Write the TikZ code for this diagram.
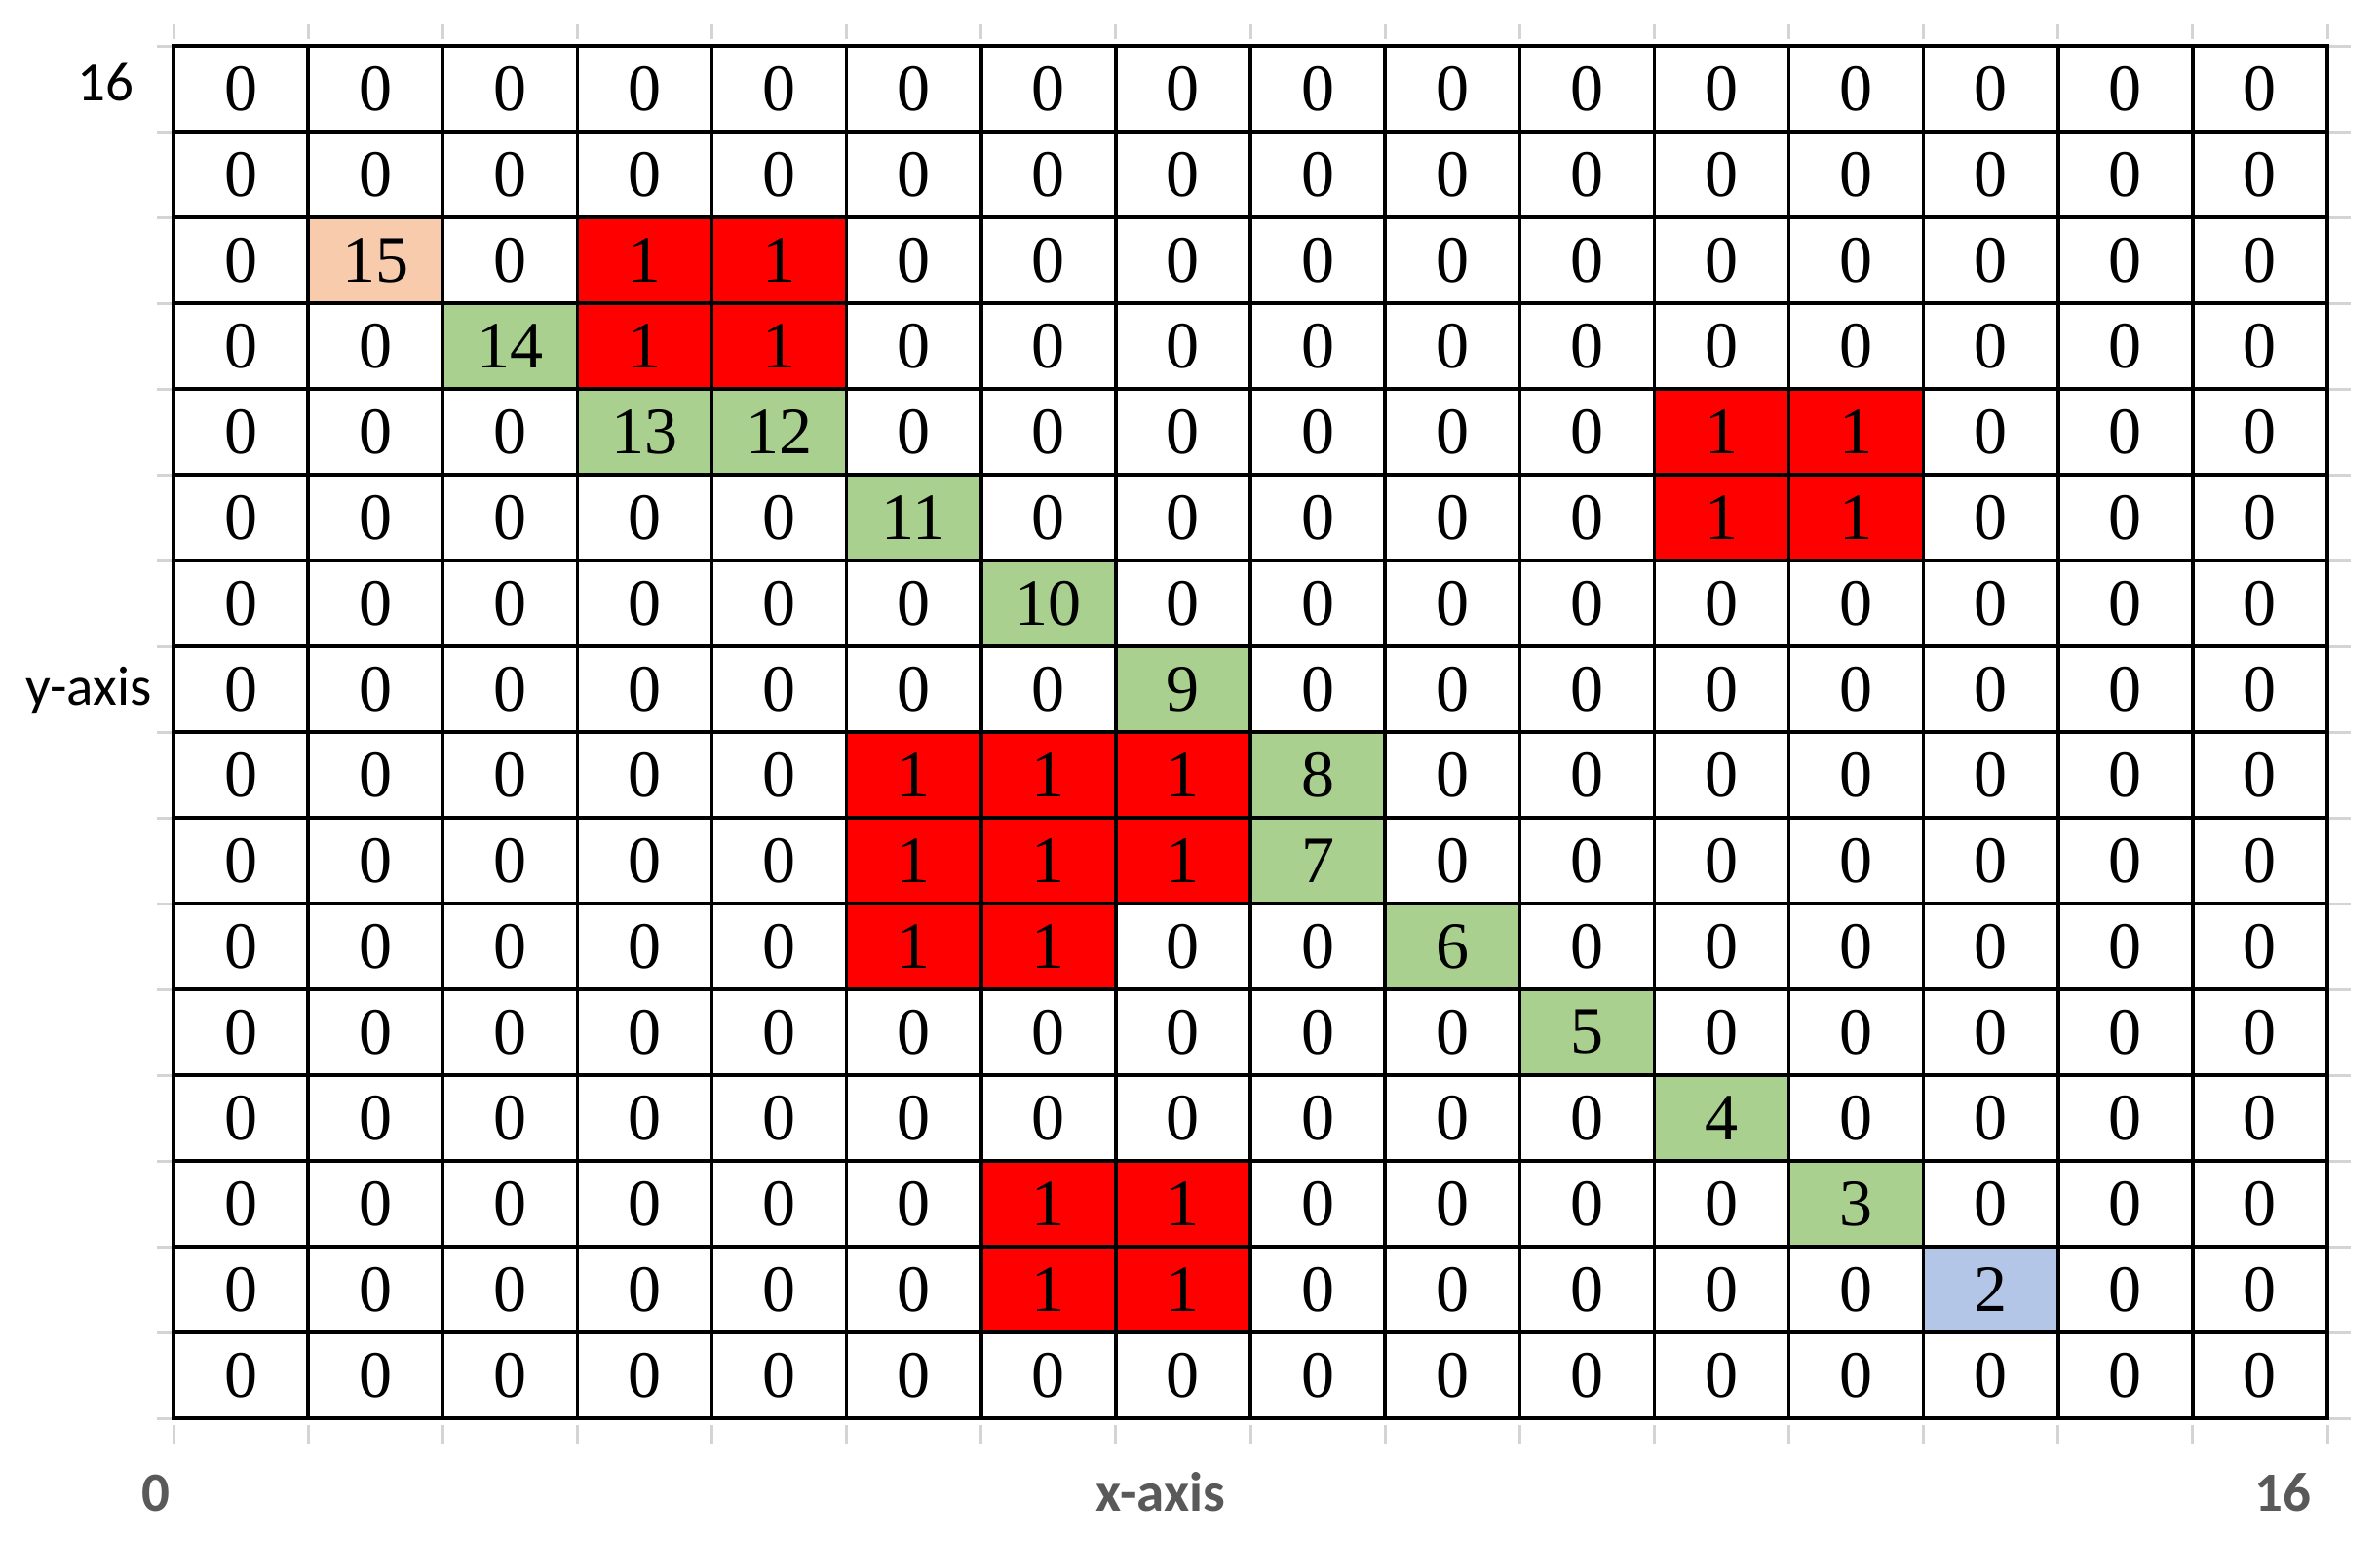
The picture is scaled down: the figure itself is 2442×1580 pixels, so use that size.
\documentclass[tikz,border=0pt]{standalone}
\usepackage{fontspec}
\setmainfont{Liberation Serif}
\newfontfamily\labfont{Carlito}
\definecolor{cellred}{HTML}{FF0000}
\definecolor{cellgreen}{HTML}{A9D08E}
\definecolor{cellpeach}{HTML}{F8CBAD}
\definecolor{cellblue}{HTML}{B4C6E7}
\definecolor{axisgray}{HTML}{595959}
\definecolor{tickgray}{HTML}{D4D4D4}
\begin{document}
\begin{tikzpicture}[x=1pt,y=-1pt,
  cell/.style={draw=black, line width=3.5pt, minimum width=138.125pt, minimum height=88pt,
    inner sep=0pt, font=\fontsize{68}{80}\selectfont},
  tickmark/.style={draw=tickgray, line width=3pt},
  lab/.style={anchor=base, inner sep=0pt, font=\labfont\fontsize{57}{68}\selectfont},
  blab/.style={anchor=base, inner sep=0pt, text=axisgray, font=\labfont\bfseries\fontsize{57}{68}\selectfont}]
\useasboundingbox (0,0) rectangle (2442,1580);
\fill[white] (0,0) rectangle (2442,1580);
% tick marks
\foreach \i in {0,...,16} {
  \draw[tickmark] ({178+\i*138.125},25) -- ({178+\i*138.125},40);
  \draw[tickmark] ({178+\i*138.125},1462) -- ({178+\i*138.125},1481);
  \draw[tickmark] (161,{47+\i*88}) -- (176,{47+\i*88});
  \draw[tickmark] (2390,{47+\i*88}) -- (2412,{47+\i*88});
}
% cells
\foreach [count=\r] \rowvals in {
  {0,0,0,0,0,0,0,0,0,0,0,0,0,0,0,0},
  {0,0,0,0,0,0,0,0,0,0,0,0,0,0,0,0},
  {0,15,0,1,1,0,0,0,0,0,0,0,0,0,0,0},
  {0,0,14,1,1,0,0,0,0,0,0,0,0,0,0,0},
  {0,0,0,13,12,0,0,0,0,0,0,1,1,0,0,0},
  {0,0,0,0,0,11,0,0,0,0,0,1,1,0,0,0},
  {0,0,0,0,0,0,10,0,0,0,0,0,0,0,0,0},
  {0,0,0,0,0,0,0,9,0,0,0,0,0,0,0,0},
  {0,0,0,0,0,1,1,1,8,0,0,0,0,0,0,0},
  {0,0,0,0,0,1,1,1,7,0,0,0,0,0,0,0},
  {0,0,0,0,0,1,1,0,0,6,0,0,0,0,0,0},
  {0,0,0,0,0,0,0,0,0,0,5,0,0,0,0,0},
  {0,0,0,0,0,0,0,0,0,0,0,4,0,0,0,0},
  {0,0,0,0,0,0,1,1,0,0,0,0,3,0,0,0},
  {0,0,0,0,0,0,1,1,0,0,0,0,0,2,0,0},
  {0,0,0,0,0,0,0,0,0,0,0,0,0,0,0,0}} {
  \foreach [count=\c] \v in \rowvals {
    \ifnum\v=0 \def\cc{white}\else
      \ifnum\v=1 \def\cc{cellred}\else
        \ifnum\v=15 \def\cc{cellpeach}\else
          \ifnum\v=2 \def\cc{cellblue}\else
            \def\cc{cellgreen}\fi\fi\fi\fi
    \node[cell, fill=\cc] (c-\r-\c) at ({178+(\c-0.5)*138.125},{47+(\r-0.5)*88}) {\v};
  }
}
% axis labels
\node[lab] (ytop) at (108.5,103) {16};
\node[lab] (ylab) at (91,723) {y-axis};
\node[blab] (xzero) at (160,1550) {0};
\node[blab] (xlab) at (1191,1550) {x-axis};
\node[blab] (xend) at (2342,1550) {16};
\end{tikzpicture}
\end{document}
